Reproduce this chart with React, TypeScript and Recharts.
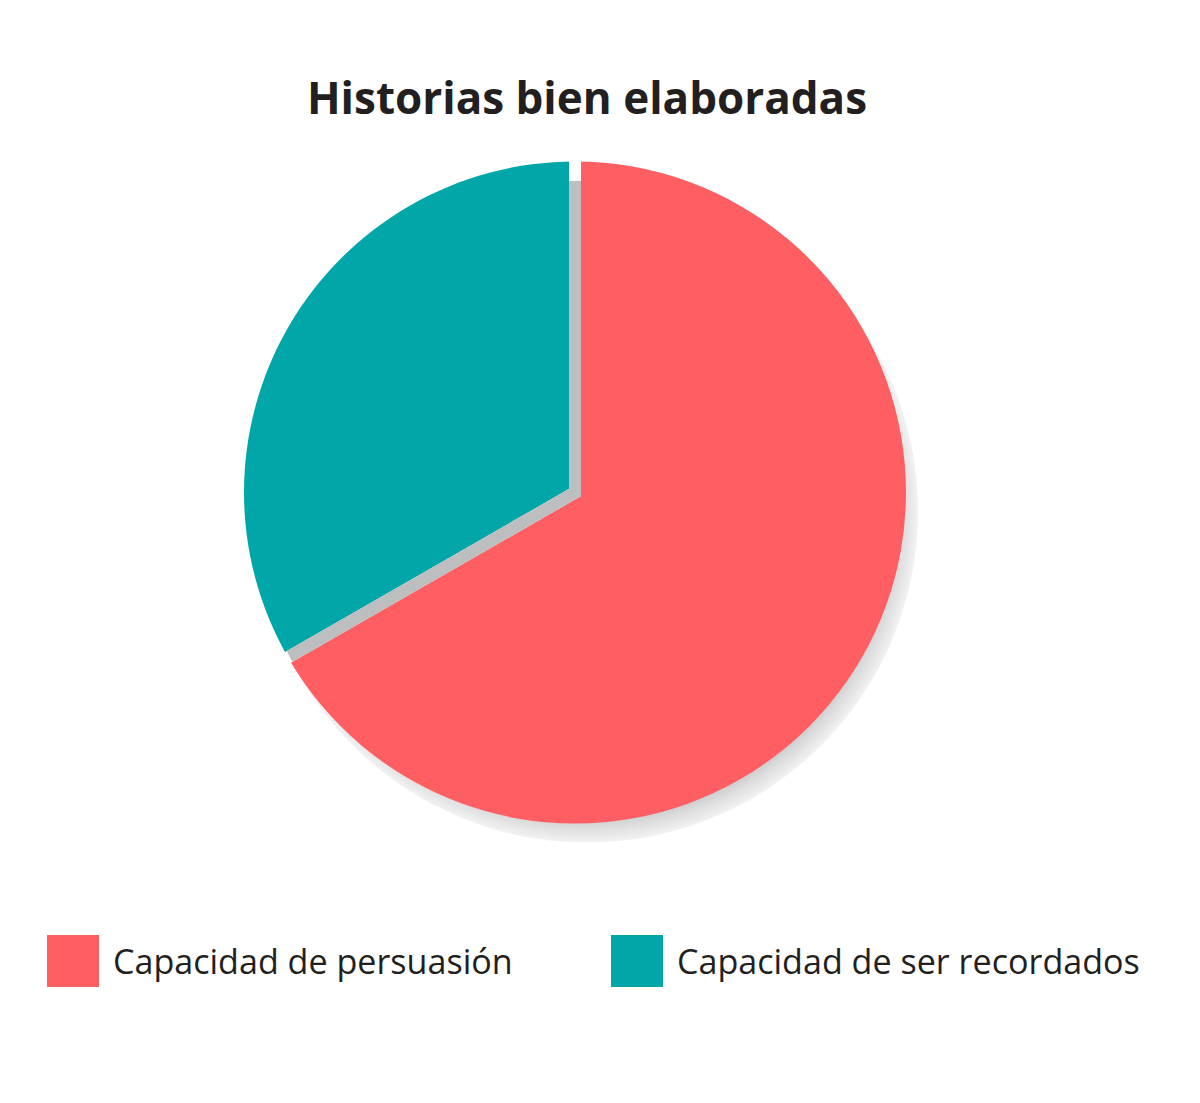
import React from 'react';
import { PieChart, Pie, Cell, Legend } from 'recharts';

const title = 'Historias bien elaboradas';
const labels = ['Capacidad de persuasión', 'Capacidad de ser recordados'];
const values = [66.7, 33.3];
const colors = ['#FF5E63', '#00A6A8'];

const data = labels.map((name, i) => ({ name, value: values[i] }));
const shadowData = [{ name: 'sombra', value: values.reduce((a, b) => a + b, 0) }];

const CX = 575;
const CY = 492.5;
const R = 331;
const SHADOW_DX = 12;
const SHADOW_DY = 19;
const GAP = 12;
const TEXT = '#231F20';
const FONT = '"Open Sans", "Noto Sans", sans-serif';

function LegendContent(props: any) {
  const seen = new Set<string>();
  const items = (props.payload || []).filter((p: any) => {
    if (p.type === 'none' || !labels.includes(p.value) || seen.has(p.value)) return false;
    seen.add(p.value);
    return true;
  });
  return (
    <div style={{ display: 'flex', fontFamily: FONT, whiteSpace: 'nowrap' }}>
      {items.map((item: any, i: number) => (
        <div
          key={item.value}
          style={{
            display: 'flex',
            alignItems: 'center',
            flexShrink: 0,
            marginLeft: i === 0 ? 47 : 0,
            width: i === 0 ? 564 : 'auto',
          }}
        >
          <span style={{ width: 52, height: 52, background: colors[labels.indexOf(item.value)], display: 'inline-block', flexShrink: 0 }} />
          <span style={{ marginLeft: 14, fontSize: 34.1, color: TEXT }}>{item.value}</span>
        </div>
      ))}
    </div>
  );
}

export default function App() {
  return (
    <div style={{ position: 'absolute', left: 0, top: 0, width: 1200, height: 1103, background: '#fff' }}>
      <style>{`.gap-gray { clip-path: url(#shadowClip); }`}</style>
      <svg width={0} height={0} style={{ position: 'absolute' }}>
        <defs>
          <radialGradient id="shadowGrad" cx="50%" cy="50%" r="50%">
            <stop offset="0%" stopColor="#bdbec0" />
            <stop offset="92%" stopColor="#c6c6c6" />
            <stop offset="95%" stopColor="#dadada" />
            <stop offset="100%" stopColor="#f2f2f2" />
          </radialGradient>
          <clipPath id="shadowClip">
            <circle cx={CX + SHADOW_DX} cy={CY + SHADOW_DY} r={R} />
          </clipPath>
        </defs>
      </svg>
      <div
        style={{
          position: 'absolute',
          left: 0,
          width: 1174,
          top: 67,
          textAlign: 'center',
          fontFamily: FONT,
          fontWeight: 700,
          fontSize: 44,
          lineHeight: 'normal',
          color: TEXT,
        }}
      >
        {title}
      </div>
      <PieChart width={1200} height={1103} margin={{ top: 0, right: 0, bottom: 0, left: 0 }}>
        <Pie
          data={shadowData}
          dataKey="value"
          cx={CX + SHADOW_DX}
          cy={CY + SHADOW_DY}
          outerRadius={R}
          startAngle={90}
          endAngle={-270}
          fill="url(#shadowGrad)"
          stroke="none"
          legendType="none"
          isAnimationActive={false}
        />
        <Pie
          data={data}
          dataKey="value"
          nameKey="name"
          cx={CX}
          cy={CY}
          outerRadius={R}
          startAngle={90}
          endAngle={-270}
          stroke="none"
          isAnimationActive={false}
        >
          {data.map((d, i) => (
            <Cell key={d.name} fill={colors[i]} />
          ))}
        </Pie>
        <Pie
          data={data}
          dataKey="value"
          cx={CX}
          cy={CY}
          outerRadius={R + 40}
          startAngle={90}
          endAngle={-270}
          fill="none"
          stroke="#ffffff"
          strokeWidth={GAP}
          legendType="none"
          isAnimationActive={false}
        />
        <Pie
          className="gap-gray"
          data={data}
          dataKey="value"
          cx={CX}
          cy={CY}
          outerRadius={R + 40}
          startAngle={90}
          endAngle={-270}
          fill="none"
          stroke="#bdbec0"
          strokeWidth={GAP}
          legendType="none"
          isAnimationActive={false}
        />
        <Legend
          layout="horizontal"
          verticalAlign="middle"
          align="center"
          content={<LegendContent />}
          wrapperStyle={{ left: 0, top: 935, width: 1200 }}
        />
      </PieChart>
    </div>
  );
}
